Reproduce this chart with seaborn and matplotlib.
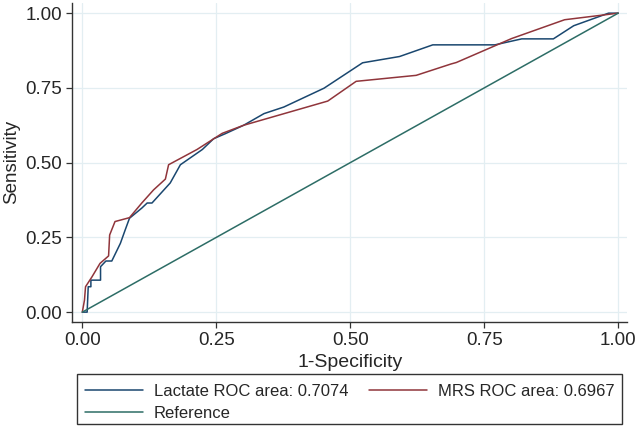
import matplotlib
matplotlib.use("Agg")
import matplotlib.pyplot as plt
import seaborn as sns
import pandas as pd
from matplotlib.patches import Rectangle

# ---- data ----
lactate_fpr = [0, 0.009, 0.011, 0.016, 0.016, 0.034, 0.034, 0.044, 0.055, 0.071, 0.080,
               0.088, 0.111, 0.121, 0.130, 0.164, 0.183, 0.224, 0.245, 0.267, 0.301, 0.339,
               0.376, 0.451, 0.523, 0.592, 0.654, 0.770, 0.820, 0.879, 0.917, 0.982, 1.0]
lactate_tpr = [0, 0, 0.085, 0.085, 0.107, 0.107, 0.152, 0.171, 0.171, 0.230, 0.275,
               0.314, 0.348, 0.365, 0.365, 0.432, 0.493, 0.544, 0.580, 0.597, 0.625, 0.664,
               0.686, 0.749, 0.834, 0.855, 0.894, 0.894, 0.914, 0.914, 0.958, 1.0, 1.0]
mrs_fpr = [0, 0.004, 0.006, 0.018, 0.033, 0.049, 0.051, 0.061, 0.088, 0.111, 0.133, 0.155,
           0.161, 0.214, 0.261, 0.301, 0.458, 0.511, 0.623, 0.688, 0.698, 0.801, 0.900, 1.0]
mrs_tpr = [0, 0.040, 0.085, 0.118, 0.163, 0.188, 0.258, 0.303, 0.316, 0.365, 0.409, 0.445,
           0.493, 0.544, 0.598, 0.625, 0.706, 0.772, 0.792, 0.830, 0.835, 0.915, 0.978, 1.0]
ref_x = [0, 1]
ref_y = [0, 1]
ticks = [0.0, 0.25, 0.5, 0.75, 1.0]
tick_labels = ["0.00", "0.25", "0.50", "0.75", "1.00"]
labels = ["Lactate ROC area: 0.7074", "MRS ROC area: 0.6967", "Reference"]
colors = ["#1a476f", "#90353b", "#2d6d66"]

sns.set_style("white")
plt.rcParams["font.family"] = ["Liberation Sans", "DejaVu Sans"]

fig = plt.figure(figsize=(6.4, 4.29), dpi=100)
ax = fig.add_axes([72.3 / 640, 1 - 321.7 / 429, (627.3 - 72.3) / 640, (321.7 - 3) / 429])

lw = 1.1
sns.lineplot(x=lactate_fpr, y=lactate_tpr, sort=False, estimator=None, color=colors[0],
             lw=lw, ax=ax, label=labels[0])
sns.lineplot(x=mrs_fpr, y=mrs_tpr, sort=False, estimator=None, color=colors[1],
             lw=lw, ax=ax, label=labels[1])
sns.lineplot(x=ref_x, y=ref_y, sort=False, estimator=None, color=colors[2],
             lw=lw, ax=ax, label=labels[2])
if ax.get_legend() is not None:
    ax.get_legend().remove()

ax.set_xlim(-0.0187, 1.017)
ax.set_ylim(-0.032, 1.034)
ax.set_xticks(ticks)
ax.set_xticklabels(tick_labels)
ax.set_yticks(ticks)
ax.set_yticklabels(tick_labels)
ax.grid(True, color="#e3eef2", lw=0.9)
ax.set_axisbelow(True)
for s in ["top", "right"]:
    ax.spines[s].set_visible(False)
for s in ["left", "bottom"]:
    ax.spines[s].set_color("#333333")
    ax.spines[s].set_linewidth(1.0)
ax.tick_params(axis="both", direction="out", length=4, width=0.9, color="#333333",
               labelsize=13.5, pad=3.5, left=True, bottom=True)

ax.set_xlabel("1-Specificity", fontsize=14)
ax.set_ylabel("Sensitivity", fontsize=13.5)
ax.xaxis.set_label_coords(0.5, -0.1)
ax.yaxis.set_label_coords(-0.094, 0.5)

h, l = ax.get_legend_handles_labels()
order = [0, 2, 1]
fig.legend([h[i] for i in order], [l[i] for i in order], ncol=2, loc="upper left",
           bbox_to_anchor=(85 / 640, 1 - 384 / 429), frameon=False, fontsize=12,
           borderpad=0, borderaxespad=0, handlelength=3.5, handletextpad=0.64,
           columnspacing=1.22, labelspacing=0.4)
fig.patches.append(Rectangle((77.3 / 640, 1 - 424 / 429), (621.7 - 77.3) / 640, 50 / 429,
                             transform=fig.transFigure, fill=False, edgecolor="#333333",
                             lw=1.0))

fig.savefig("out.png", dpi=100)
